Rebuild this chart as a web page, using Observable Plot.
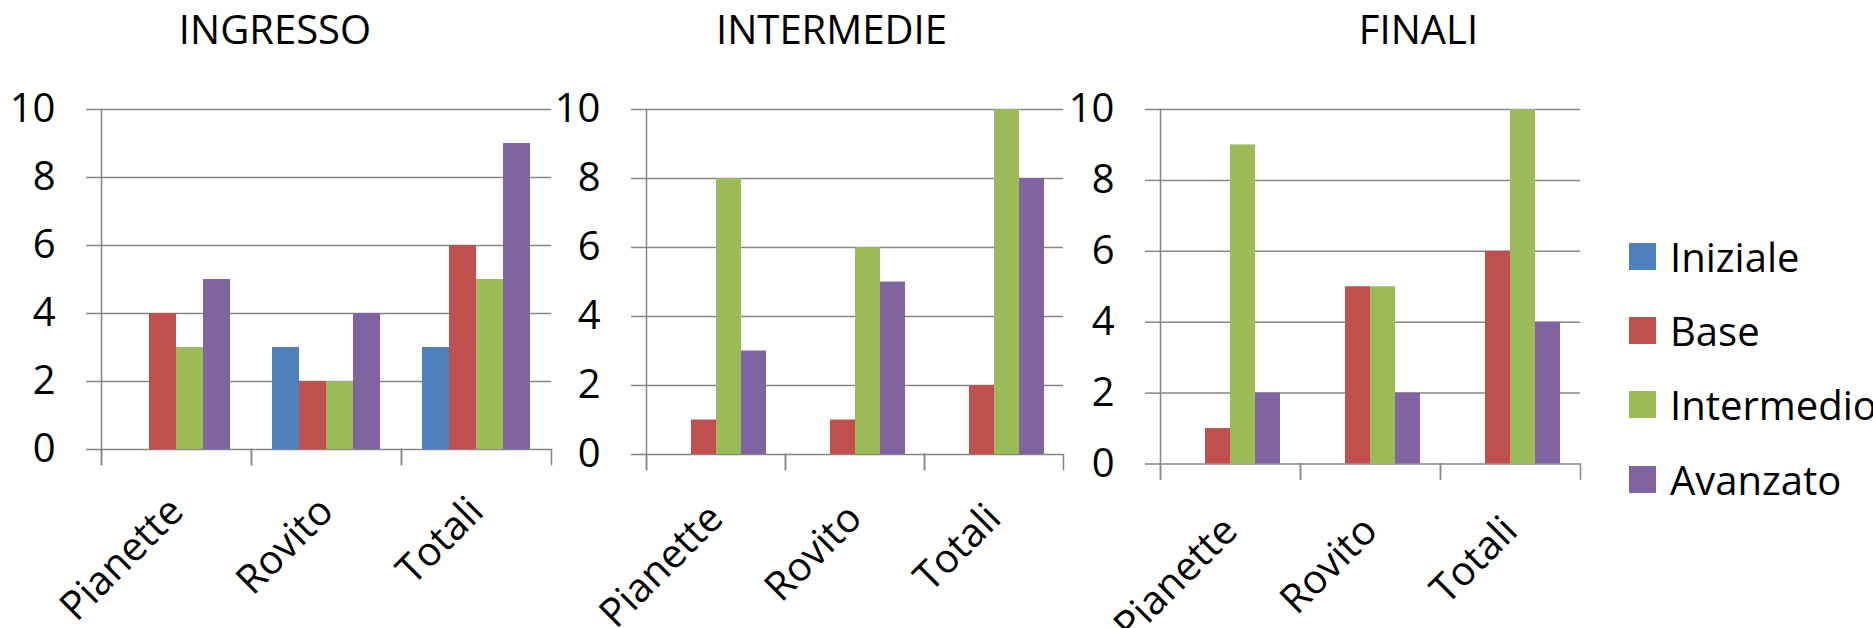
<!DOCTYPE html>
<html>
<head>
<meta charset="utf-8">
<script src="https://cdn.jsdelivr.net/npm/d3@7"></script>
<script src="https://cdn.jsdelivr.net/npm/@observablehq/plot@0.6"></script>
<style>
  html, body { margin: 0; padding: 0; background: #fff; }
  #root { position: relative; width: 1873px; height: 628px; overflow: hidden; font-family: "Open Sans", Lato, sans-serif; color: #000; }
  .panel { position: absolute; top: 0; }
  .title { position: absolute; top: 1px; font-size: 40px; white-space: nowrap; transform: translateX(-50%); }
  .legend-row { position: absolute; display: flex; align-items: center; font-size: 40px; white-space: nowrap; height: 54px; }
  .swatch { width: 27px; height: 27px; margin-right: 14px; flex: none; }
</style>
</head>
<body>
<div id="root"></div>
<script>
// ---------- data ----------
const categories = ["Pianette", "Rovito", "Totali"];
const levels = ["Iniziale", "Base", "Intermedio", "Avanzato"];
const levelColors = ["#4F81BD", "#C0504D", "#9BBB59", "#8064A2"];
const panelTitles = ["INGRESSO", "INTERMEDIE", "FINALI"];
const yTicks = [0, 2, 4, 6, 8, 10];

// values per level (rows: Iniziale, Base, Intermedio, Avanzato), columns: Pianette, Rovito, Totali
const ingresso   = [[0, 3, 3], [4, 2, 6], [3, 2, 5], [5, 4, 9]];
const intermedie = [[0, 0, 0], [1, 1, 2], [8, 6, 10], [3, 5, 8]];
const finali     = [[0, 0, 0], [1, 5, 6], [9, 5, 10], [2, 2, 4]];

// ---------- layout (not data) ----------
const panels = [
  {values: ingresso,   left: 0,    plotW: 450, zero: 449,   labelPad: 55, titleX: 275},
  {values: intermedie, left: 544,  plotW: 419, zero: 454,   labelPad: 57, titleX: 831.5},
  {values: finali,     left: 1059, plotW: 420, zero: 463.5, labelPad: 60, titleX: 1418.5}
];
const H = 628, mL = 101, mR = 14, mT = 109, tickLen = 15;
const gridColor = "#868686", gridW = 1.5;
const fontFamily = "'Open Sans', Lato, sans-serif";
const fontSize = 40;

const root = document.getElementById("root");

function makePanel(p) {
  const rows = [];
  levels.forEach((lv, j) => categories.forEach((c, i) => rows.push({category: c, level: lv, value: p.values[j][i]})));
  const innerH = p.zero - mT;
  return Plot.plot({
    width: mL + p.plotW + mR,
    height: H,
    marginLeft: mL, marginRight: mR, marginTop: mT, marginBottom: H - p.zero,
    style: {fontFamily, fontSize: fontSize + "px", color: "#000", background: "transparent", overflow: "visible"},
    fx: {domain: categories, padding: 0, label: null},
    x: {domain: levels, paddingInner: 0, paddingOuter: 0.75, axis: null},
    y: {domain: [0, 10], label: null},
    color: {domain: levels, range: levelColors},
    marks: [
      Plot.gridY(yTicks, {stroke: gridColor, strokeOpacity: 1, strokeWidth: gridW}),
      Plot.barY(rows, {fx: "category", x: "level", y: "value", fill: "level"}),
      // category separator ticks below the axis
      Plot.frame({anchor: "left", stroke: gridColor, strokeOpacity: 1, strokeWidth: gridW, insetTop: innerH, insetBottom: -tickLen}),
      Plot.frame({anchor: "right", stroke: gridColor, strokeOpacity: 1, strokeWidth: gridW, insetTop: innerH, insetBottom: -tickLen}),
      // vertical value axis line
      Plot.frame({anchor: "left", facet: "super", stroke: gridColor, strokeOpacity: 1, strokeWidth: gridW, insetBottom: -tickLen}),
      Plot.axisY(yTicks, {tickSize: tickLen, tickPadding: 31, stroke: gridColor, strokeOpacity: 1, strokeWidth: gridW, fill: "#000", label: null, fontSize, fontFamily}),
      Plot.axisFx({anchor: "bottom", tickRotate: -45, tickSize: 0, tickPadding: p.labelPad, label: null, fill: "#000", fontSize, fontFamily})
    ]
  });
}

panels.forEach((p, k) => {
  const wrap = document.createElement("div");
  wrap.className = "panel";
  wrap.style.left = p.left + "px";
  wrap.appendChild(makePanel(p));
  root.appendChild(wrap);
  const t = document.createElement("div");
  t.className = "title";
  t.style.left = p.titleX + "px";
  t.textContent = panelTitles[k];
  root.appendChild(t);
});

// legend
const legendCenters = [256.3, 330.5, 404.5, 479.2];
levels.forEach((lv, j) => {
  const row = document.createElement("div");
  row.className = "legend-row";
  row.style.left = "1629px";
  row.style.top = (legendCenters[j] - 27) + "px";
  const sw = document.createElement("div");
  sw.className = "swatch";
  sw.style.background = levelColors[j];
  const tx = document.createElement("span");
  tx.textContent = lv;
  row.appendChild(sw);
  row.appendChild(tx);
  root.appendChild(row);
});
</script>
</body>
</html>
